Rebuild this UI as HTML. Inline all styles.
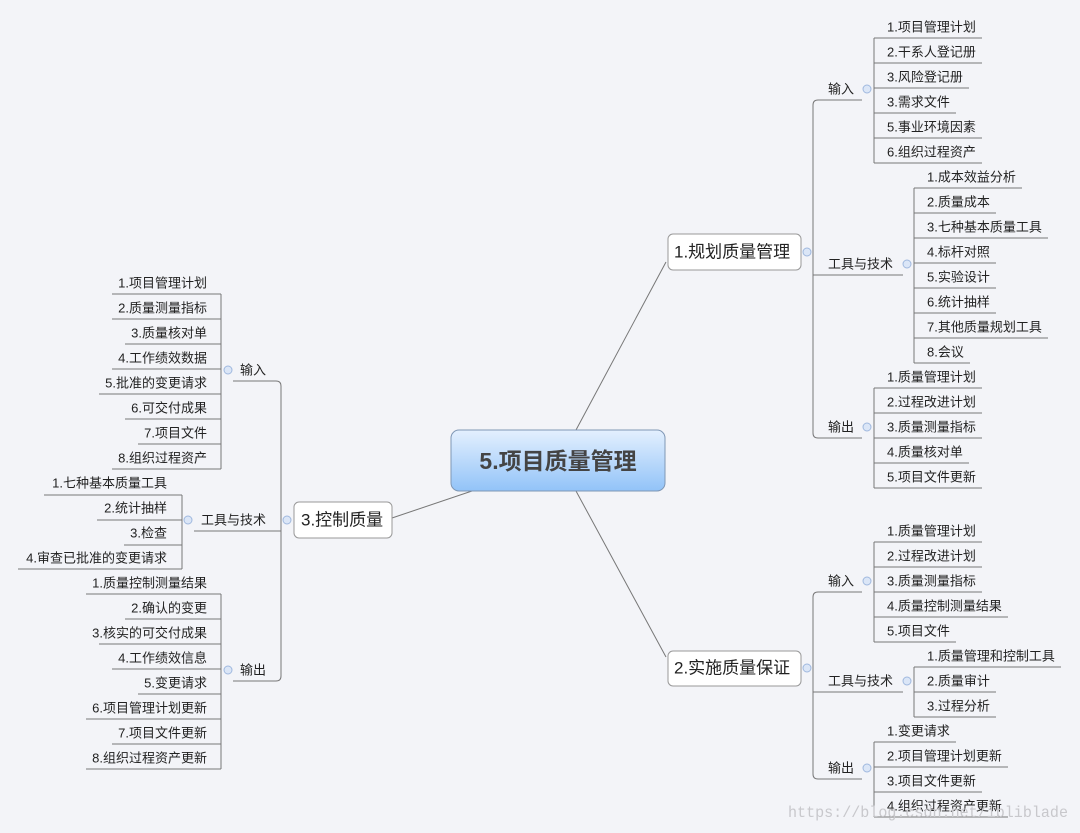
<!DOCTYPE html>
<html><head><meta charset="utf-8"><style>
html,body{margin:0;padding:0;background:#f3f4f8;}
svg{display:block;font-family:"Liberation Sans","Noto Sans CJK SC",sans-serif;}
.t{font-size:13px;fill:#222;dominant-baseline:central;}
.l{stroke:#777;stroke-width:1;fill:none;}
.c{fill:#dbe6f7;stroke:#9fb8de;stroke-width:1;}
</style></head><body>
<svg width="1080" height="833" viewBox="0 0 1080 833">
<defs>
<linearGradient id="g" x1="0" y1="0" x2="0" y2="1"><stop offset="0" stop-color="#e4f0fe"/><stop offset="1" stop-color="#92c3f8"/></linearGradient>
</defs>
<path class="l" d="M576 430 L666 262 M576 491 L666 657 M472 491 L392 518"/>
<rect x="451" y="430" width="214" height="61" rx="8" fill="url(#g)" stroke="#7f97b5"/>
<text x="558" y="461" text-anchor="middle" dominant-baseline="central" style="font-size:23px;font-weight:bold;fill:#444">5.项目质量管理</text>

<!-- GROUP 1 -->
<rect x="668" y="234" width="133" height="36" rx="5" fill="#fff" stroke="#999"/>
<text x="674" y="252" style="font-size:17px;fill:#222;dominant-baseline:central">1.规划质量管理</text>
<circle class="c" cx="807" cy="252" r="4"/>
<path class="l" d="M813 105 Q813 100 818 100 L862 100 M813 105 L813 433 Q813 438 818 438 L862 438 M813 275 L903 275"/>
<text class="t" x="828" y="89">输入</text>
<text class="t" x="828" y="264">工具与技术</text>
<text class="t" x="828" y="427">输出</text>
<circle class="c" cx="867" cy="89" r="4"/><circle class="c" cx="907" cy="264" r="4"/><circle class="c" cx="867" cy="427" r="4"/>
<path class="l" d="M874 38 L874 163 M874 38 H982 M874 63 H982 M874 88 H969 M874 113 H956 M874 138 H982 M874 163 H982"/>
<text class="t" x="887" y="27">1.项目管理计划</text><text class="t" x="887" y="52">2.干系人登记册</text><text class="t" x="887" y="77">3.风险登记册</text><text class="t" x="887" y="102">3.需求文件</text><text class="t" x="887" y="127">5.事业环境因素</text><text class="t" x="887" y="152">6.组织过程资产</text>
<path class="l" d="M914 188 L914 363 M914 188 H1022 M914 213 H996 M914 238 H1048 M914 263 H996 M914 288 H996 M914 313 H996 M914 338 H1048 M914 363 H970"/>
<text class="t" x="927" y="177">1.成本效益分析</text><text class="t" x="927" y="202">2.质量成本</text><text class="t" x="927" y="227">3.七种基本质量工具</text><text class="t" x="927" y="252">4.标杆对照</text><text class="t" x="927" y="277">5.实验设计</text><text class="t" x="927" y="302">6.统计抽样</text><text class="t" x="927" y="327">7.其他质量规划工具</text><text class="t" x="927" y="352">8.会议</text>
<path class="l" d="M874 388 L874 488 M874 388 H982 M874 413 H982 M874 438 H982 M874 463 H969 M874 488 H982"/>
<text class="t" x="887" y="377">1.质量管理计划</text><text class="t" x="887" y="402">2.过程改进计划</text><text class="t" x="887" y="427">3.质量测量指标</text><text class="t" x="887" y="452">4.质量核对单</text><text class="t" x="887" y="477">5.项目文件更新</text>

<!-- GROUP 2 -->
<rect x="668" y="651" width="133" height="35" rx="5" fill="#fff" stroke="#999"/>
<text x="674" y="668" style="font-size:17px;fill:#222;dominant-baseline:central">2.实施质量保证</text>
<circle class="c" cx="807" cy="668" r="4"/>
<path class="l" d="M813 597 Q813 592 818 592 L862 592 M813 597 L813 774 Q813 779 818 779 L862 779 M813 692 L903 692"/>
<text class="t" x="828" y="581">输入</text>
<text class="t" x="828" y="681">工具与技术</text>
<text class="t" x="828" y="768">输出</text>
<circle class="c" cx="867" cy="581" r="4"/><circle class="c" cx="907" cy="681" r="4"/><circle class="c" cx="867" cy="768" r="4"/>
<path class="l" d="M874 542 L874 642 M874 542 H982 M874 567 H982 M874 592 H982 M874 617 H1008 M874 642 H956"/>
<text class="t" x="887" y="531">1.质量管理计划</text><text class="t" x="887" y="556">2.过程改进计划</text><text class="t" x="887" y="581">3.质量测量指标</text><text class="t" x="887" y="606">4.质量控制测量结果</text><text class="t" x="887" y="631">5.项目文件</text>
<path class="l" d="M914 667 L914 717 M914 667 H1061 M914 692 H996 M914 717 H996"/>
<text class="t" x="927" y="656">1.质量管理和控制工具</text><text class="t" x="927" y="681">2.质量审计</text><text class="t" x="927" y="706">3.过程分析</text>
<path class="l" d="M874 742 L874 817 M874 742 H956 M874 767 H1008 M874 792 H982 M874 817 H1008"/>
<text class="t" x="887" y="731">1.变更请求</text><text class="t" x="887" y="756">2.项目管理计划更新</text><text class="t" x="887" y="781">3.项目文件更新</text><text class="t" x="887" y="806">4.组织过程资产更新</text>

<!-- GROUP 3 -->
<rect x="294" y="502" width="98" height="36" rx="5" fill="#fff" stroke="#999"/>
<text x="301" y="520" style="font-size:17px;fill:#222;dominant-baseline:central">3.控制质量</text>
<circle class="c" cx="287" cy="520" r="4"/>
<path class="l" d="M281 386 Q281 381 276 381 L233 381 M281 386 L281 676 Q281 681 276 681 L233 681 M281 531 L194 531"/>
<text class="t" x="266" y="370" text-anchor="end">输入</text>
<text class="t" x="266" y="520" text-anchor="end">工具与技术</text>
<text class="t" x="266" y="670" text-anchor="end">输出</text>
<circle class="c" cx="228" cy="370" r="4"/><circle class="c" cx="188" cy="520" r="4"/><circle class="c" cx="228" cy="670" r="4"/>
<path class="l" d="M221 294 L221 469 M221 294 H112 M221 319 H112 M221 344 H125 M221 369 H112 M221 394 H99 M221 419 H125 M221 444 H138 M221 469 H112"/>
<g text-anchor="end">
<text class="t" x="207" y="283">1.项目管理计划</text><text class="t" x="207" y="308">2.质量测量指标</text><text class="t" x="207" y="333">3.质量核对单</text><text class="t" x="207" y="358">4.工作绩效数据</text><text class="t" x="207" y="383">5.批准的变更请求</text><text class="t" x="207" y="408">6.可交付成果</text><text class="t" x="207" y="433">7.项目文件</text><text class="t" x="207" y="458">8.组织过程资产</text>
</g>
<path class="l" d="M182 495 L182 569 M182 495 H44 M182 520 H97 M182 545 H124 M182 569 H18"/>
<g text-anchor="end">
<text class="t" x="167" y="483">1.七种基本质量工具</text><text class="t" x="167" y="508">2.统计抽样</text><text class="t" x="167" y="533">3.检查</text><text class="t" x="167" y="558">4.审查已批准的变更请求</text>
</g>
<path class="l" d="M221 594 L221 769 M221 594 H86 M221 619 H125 M221 644 H99 M221 669 H112 M221 694 H138 M221 719 H86 M221 744 H112 M221 769 H86"/>
<g text-anchor="end">
<text class="t" x="207" y="583">1.质量控制测量结果</text><text class="t" x="207" y="608">2.确认的变更</text><text class="t" x="207" y="633">3.核实的可交付成果</text><text class="t" x="207" y="658">4.工作绩效信息</text><text class="t" x="207" y="683">5.变更请求</text><text class="t" x="207" y="708">6.项目管理计划更新</text><text class="t" x="207" y="733">7.项目文件更新</text><text class="t" x="207" y="758">8.组织过程资产更新</text>
</g>
<text x="788" y="813" dominant-baseline="central" textLength="280" lengthAdjust="spacingAndGlyphs" style="font-family:'Liberation Mono',monospace;font-size:16px;fill:#c8c8cc">https://blog.csdn.net/ibliblade</text>
</svg>
</body></html>
